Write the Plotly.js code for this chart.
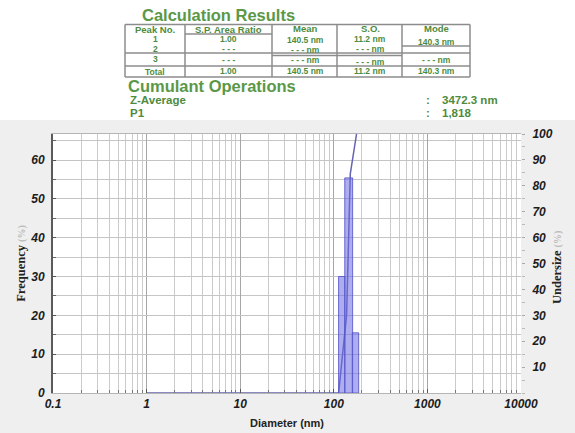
<!DOCTYPE html>
<html><head><meta charset="utf-8">
<script src="https://cdn.plot.ly/plotly-3.0.1.min.js"></script>
<style>html,body{margin:0;padding:0;background:#efefef}#chart{width:575px;height:433px}</style>
</head><body><div id="chart"></div>
<script>
// ---- Data ----
// Frequency histogram bins (diameter, nm) and values (%)
const binLow = [112.5, 131.0, 157.5];
const binHigh = [131.5, 158.9, 184.5];
const frequency = [30.0, 55.4, 15.5];
// Cumulative undersize (%)
const cumDiameter = [1, 112.5, 137, 150, 175];
const cumUndersize = [0, 0, 30, 84.6, 100];

const xTickVals = [0.1, 1, 10, 100, 1000, 10000];
const xTickText = ['0.1', '1', '10', '100', '1000', '10000'];
const yTickVals = [0, 10, 20, 30, 40, 50, 60];
const y2TickVals = [10, 20, 30, 40, 50, 60, 70, 80, 90, 100];

// Calculation results table
const tableHeaders = ['Peak No.', 'S.P. Area Ratio', 'Mean', 'S.O.', 'Mode'];
const peakNo = ['1', '2', '3', 'Total'];
const areaRatio = ['1.00', '- - -', '- - -', '1.00'];
const meanVals = ['140.5 nm', '- - - nm', '- - - nm', '140.5 nm'];
const sdVals = ['11.2 nm', '- - - nm', '- - - nm', '11.2 nm'];
const modeVals = ['140.3 nm', '', '- - - nm', '140.3 nm'];
// Cumulant operations
const cumulantLabels = ['Z-Average', 'P1'];
const cumulantValues = ['3472.3 nm', '1,818'];

// ---- Layout helpers (pixel -> paper) ----
const L = 53, R = 521, T = 134, B = 393;
const W = R - L, H = B - T;
const px = x => (x - L) / W;
const py = y => (B - y) / H;

const GREEN = '#4e8b3e';
const SANS = 'Liberation Sans, Arial, sans-serif';
const SERIF = 'Liberation Serif, Times New Roman, serif';
const tickFont = {family: SANS, size: 12, color: '#1c1c1c', weight: 'bold', style: 'italic'};
const axisTitleFont = {family: SERIF, size: 12.5, color: '#222', weight: 'bold'};

const traces = [];
// cumulative undersize on the right axis (main subplot, drawn underneath)
traces.push({
  x: cumDiameter, y: cumUndersize, type: 'scatter', mode: 'lines',
  line: {color: '#6464b0', width: 1.5}, xaxis: 'x', yaxis: 'y', showlegend: false, hoverinfo: 'skip'
});
// frequency bars on the left axis (overlay subplot)
for (let i = 0; i < frequency.length; i++) {
  traces.push({
    x: [binLow[i], binLow[i], binHigh[i], binHigh[i], binLow[i]],
    y: [0, frequency[i], frequency[i], 0, 0],
    type: 'scatter', mode: 'lines', fill: 'toself',
    fillcolor: 'rgba(105,105,228,0.55)',
    line: {color: 'rgba(85,85,200,0.85)', width: 1},
    hoverinfo: 'skip', showlegend: false, xaxis: 'x', yaxis: 'y2'
  });
}

// ---- Annotations ----
const ann = [];
function txt(text, x, y, size, opts) {
  ann.push(Object.assign({
    text: text, x: px(x), y: py(y), xref: 'paper', yref: 'paper',
    xanchor: 'center', yanchor: 'middle', showarrow: false,
    font: {family: SANS, size: size, color: GREEN, weight: 'bold'}
  }, opts || {}));
}
const titleFont = {family: SANS, size: 16.5, color: '#5a9848', weight: 'bold'};
txt('Calculation Results', 140, 15.5, 16.5, {xanchor: 'left', font: titleFont});
txt('Cumulant Operations', 126, 85.5, 16.5, {xanchor: 'left', font: titleFont});

const colX = [155, 228, 305, 370, 436];
const headerY = [30, 30, 29, 29, 29];
tableHeaders.forEach((h, i) => txt(h, colX[i], headerY[i], 9.5));
const columns = [peakNo, areaRatio, meanVals, sdVals, modeVals];
const rowY = [
  [39, 48.5, 59, 72],
  [39.5, 49, 60, 71],
  [40.5, 50, 60, 71],
  [39.5, 49, 62, 71],
  [42, 48, 60, 71]
];
columns.forEach((col, c) => col.forEach((v, r) => { if (v) txt(v, colX[c], rowY[c][r], 8.5); }));

const cumY = [100, 113];
cumulantLabels.forEach((lab, i) => {
  txt(lab, 128, cumY[i], 11.5, {xanchor: 'left'});
  txt(':', 428, cumY[i], 11.5);
  txt(cumulantValues[i], 440, cumY[i], 11.5, {xanchor: 'left'});
});

// right axis title (placed close to the tick labels as in the original)
txt('Undersize <span style="color:#bdbdbd;font-size:10px">(%)</span>', 557, 268, 12.5, {textangle: -90, font: axisTitleFont});

// ---- Shapes ----
const shapes = [];
shapes.push({type: 'rect', xref: 'paper', yref: 'paper', x0: px(0), x1: px(575), y0: py(120), y1: py(0),
  fillcolor: '#ffffff', line: {width: 0}, layer: 'below'});
function hline(x0, x1, y) {
  shapes.push({type: 'line', xref: 'paper', yref: 'paper', x0: px(x0), x1: px(x1), y0: py(y), y1: py(y),
    line: {color: '#8c8c8c', width: 1.5}});
}
function vline(x, y0, y1) {
  shapes.push({type: 'line', xref: 'paper', yref: 'paper', x0: px(x), x1: px(x), y0: py(y0), y1: py(y1),
    line: {color: '#8c8c8c', width: 1.5}});
}
const colEdges = [125, 185, 272, 337, 402, 470];
colEdges.forEach(x => vline(x, 24.5, 77));
hline(125, 470, 24.5);
hline(185, 272, 34);
hline(402, 470, 46);
hline(125, 470, 53);
hline(272, 402, 55.5);
hline(125, 470, 66);
hline(125, 470, 77);

const layout = {
  width: 575, height: 433,
  margin: {l: L, r: 575 - R, t: T, b: 433 - B, pad: 0},
  paper_bgcolor: '#efefef', plot_bgcolor: '#ffffff',
  showlegend: false,
  xaxis: {
    type: 'log', range: [-1, 4], tickvals: xTickVals, ticktext: xTickText,
    tickfont: tickFont, ticks: 'inside', ticklen: 4, tickcolor: '#555',
    showgrid: true, gridcolor: '#a6a6a6', gridwidth: 1.3,
    minor: {dtick: 'D1', showgrid: true, gridcolor: '#cbcbcb', gridwidth: 1, ticks: 'inside', ticklen: 3, tickcolor: '#777'},
    showline: true, linecolor: '#b5b5b5', linewidth: 1, mirror: true, zeroline: false,
    title: {text: 'Diameter (nm)', font: {family: SANS, size: 11, color: '#222', weight: 'bold'}, standoff: 8}
  },
  // right axis: undersize (main)
  yaxis: {
    side: 'right', range: [0, 100], tickvals: y2TickVals, tickfont: tickFont,
    ticks: 'outside', ticklen: 3, tickcolor: '#aaa',
    minor: {dtick: 5, tick0: 0, ticks: 'outside', ticklen: 3, tickcolor: '#bbb'},
    showgrid: false, showline: false, zeroline: false, ticklabelstandoff: 5
  },
  // left axis: frequency (overlay)
  yaxis2: {
    overlaying: 'y', side: 'left', range: [0, 66.7], tickvals: yTickVals, tickfont: tickFont,
    ticks: 'inside', ticklen: 3, tickcolor: '#555',
    showgrid: true, gridcolor: '#c4c4c4', gridwidth: 1,
    minor: {dtick: 5, tick0: 0, showgrid: true, gridcolor: '#c6c6c6', ticks: 'inside', ticklen: 3, tickcolor: '#666'},
    showline: true, linecolor: '#5a5a5a', linewidth: 2, zeroline: false, ticklabelstandoff: 4,
    title: {text: 'Frequency <span style="color:#bdbdbd;font-size:10px">(%)</span>', font: axisTitleFont, standoff: 2}
  },
  annotations: ann,
  shapes: shapes
};

Plotly.newPlot('chart', traces, layout, {staticPlot: true, displayModeBar: false});
</script>
</body></html>
